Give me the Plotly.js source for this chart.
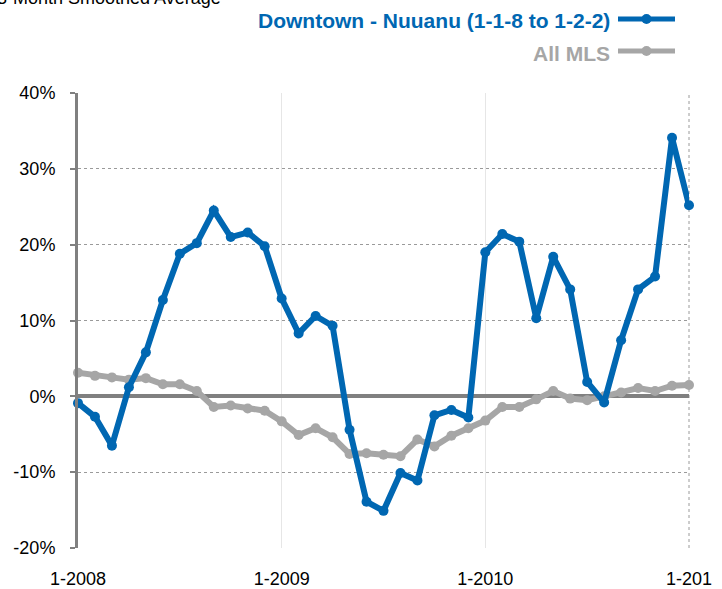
<!DOCTYPE html>
<html>
<head>
<meta charset="utf-8">
<script src="https://cdn.plot.ly/plotly-3.0.1.min.js"></script>
<style>html,body{margin:0;padding:0;background:#fff;}#chart{width:722px;height:589px;}</style>
</head>
<body>
<div id="chart"></div>
<script>
const months = [
  "1-2008","2-2008","3-2008","4-2008","5-2008","6-2008","7-2008","8-2008","9-2008","10-2008","11-2008","12-2008",
  "1-2009","2-2009","3-2009","4-2009","5-2009","6-2009","7-2009","8-2009","9-2009","10-2009","11-2009","12-2009",
  "1-2010","2-2010","3-2010","4-2010","5-2010","6-2010","7-2010","8-2010","9-2010","10-2010","11-2010","12-2010",
  "1-2011"
];
const downtown = [
  -0.9, -2.7, -6.5, 1.2, 5.8, 12.7, 18.8, 20.2, 24.5, 21.0, 21.6, 19.8,
  12.9, 8.3, 10.6, 9.3, -4.4, -13.9, -15.1, -10.1, -11.1, -2.5, -1.8, -2.8,
  19.0, 21.4, 20.4, 10.3, 18.4, 14.1, 1.9, -0.8, 7.4, 14.1, 15.8, 34.1,
  25.2
];
const allMLS = [
  3.1, 2.7, 2.5, 2.2, 2.4, 1.6, 1.6, 0.7, -1.4, -1.2, -1.6, -1.9,
  -3.3, -5.1, -4.2, -5.4, -7.6, -7.5, -7.7, -7.9, -5.7, -6.6, -5.2, -4.2,
  -3.2, -1.4, -1.4, -0.4, 0.7, -0.3, -0.5, 0.0, 0.5, 1.1, 0.7, 1.4,
  1.5
];
const seriesNames = ["Downtown - Nuuanu (1-1-8 to 1-2-2)", "All MLS"];
const xTickVals = ["1-2008","1-2009","1-2010","1-2011"];
const xTickText = ["1-2008","1-2009","1-2010","1-201"];
const yTickVals = [-20,-10,0,10,20,30,40];
const yTickText = ["-20%","-10%","0%","10%","20%","30%","40%"];
const chartTitle = "3-Month Smoothed Average";

const BLUE = "#0067b2";
const GRAY = "#a6a6a6";

const traces = [
  {x: months, y: allMLS, name: seriesNames[1], type: "scatter", mode: "lines+markers",
   line: {color: GRAY, width: 6}, marker: {color: GRAY, size: 10}, cliponaxis: false},
  {x: months, y: downtown, name: seriesNames[0], type: "scatter", mode: "lines+markers",
   line: {color: BLUE, width: 6}, marker: {color: BLUE, size: 10}, cliponaxis: false}
];

const L = 78, T = 93, W = 611, H = 455;
const px = v => (v - L) / W;
const py = v => (T + H - v) / H;

const layout = {
  width: 722, height: 589,
  margin: {l: L, r: 722 - L - W, t: T, b: 589 - T - H},
  paper_bgcolor: "#fff", plot_bgcolor: "#fff",
  showlegend: false,
  font: {family: "Arial, Liberation Sans, sans-serif", color: "#000"},
  xaxis: {
    type: "category", range: [0, 36], tickmode: "array",
    tickvals: xTickVals, ticktext: xTickText,
    showgrid: true, gridcolor: "#e6e6e6", gridwidth: 1,
    zeroline: false, showline: false, ticks: "",
    tickfont: {size: 18, color: "#000"}, ticklabelstandoff: 18
  },
  yaxis: {
    range: [-20, 40], tickmode: "array", tickvals: yTickVals, ticktext: yTickText,
    showgrid: true, gridcolor: "#9a9a9a", griddash: "dot", gridwidth: 1,
    zeroline: true, zerolinecolor: "#808080", zerolinewidth: 4,
    showline: true, linecolor: "#808080", linewidth: 3,
    ticks: "outside", ticklen: 5, tickwidth: 2, tickcolor: "#808080",
    tickfont: {size: 18, color: "#000"}, ticklabelstandoff: 11
  },
  shapes: [
    {type: "line", xref: "paper", yref: "paper", x0: 1, x1: 1, y0: 0, y1: 1,
     line: {color: "#9a9a9a", width: 1, dash: "dot"}, layer: "below"},
    {type: "line", xref: "paper", yref: "paper", x0: px(618), x1: px(675), y0: py(19), y1: py(19),
     line: {color: BLUE, width: 5}},
    {type: "circle", xref: "paper", yref: "paper", x0: px(641.5), x1: px(651.5), y0: py(14), y1: py(24),
     fillcolor: BLUE, line: {color: BLUE, width: 0}},
    {type: "line", xref: "paper", yref: "paper", x0: px(618), x1: px(675), y0: py(51), y1: py(51),
     line: {color: GRAY, width: 5}},
    {type: "circle", xref: "paper", yref: "paper", x0: px(641.5), x1: px(651.5), y0: py(46), y1: py(56),
     fillcolor: GRAY, line: {color: GRAY, width: 0}}
  ],
  annotations: [
    {text: seriesNames[0], xref: "paper", yref: "paper", x: px(612), y: py(21), xanchor: "right", yanchor: "middle",
     showarrow: false, font: {size: 21, color: BLUE, family: "Arial, Liberation Sans, sans-serif", weight: "bold"}},
    {text: seriesNames[1], xref: "paper", yref: "paper", x: px(612), y: py(53), xanchor: "right", yanchor: "middle",
     showarrow: false, font: {size: 21, color: GRAY, family: "Arial, Liberation Sans, sans-serif", weight: "bold"}},
    {text: chartTitle, xref: "paper", yref: "paper", x: px(-5), y: py(-2), xanchor: "left", yanchor: "middle",
     showarrow: false, font: {size: 18, color: "#000"}}
  ]
};

Plotly.newPlot("chart", traces, layout, {displayModeBar: false, staticPlot: true});
</script>
</body>
</html>
